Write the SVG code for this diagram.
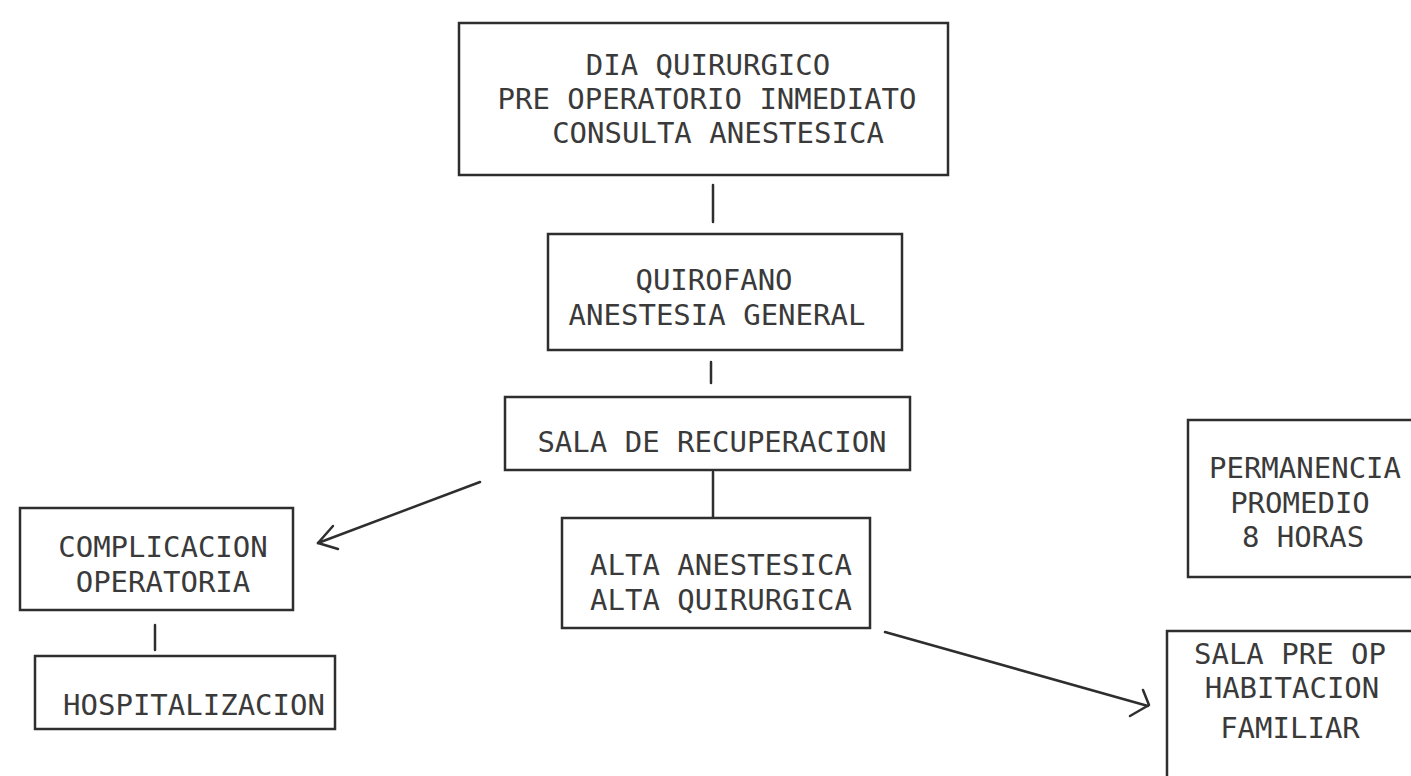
<svg xmlns="http://www.w3.org/2000/svg" width="1411" height="776" viewBox="0 0 1411 776">
<style>
.box{fill:none;stroke:#2e2e2e;stroke-width:2.5}
.t{font-family:"DejaVu Sans Mono","Liberation Mono",monospace;font-size:29px;fill:#3a3a3a;text-anchor:middle}
.c{fill:none;stroke:#2e2e2e;stroke-width:2.5;stroke-linecap:round;stroke-linejoin:round}
</style>
<rect width="1411" height="776" fill="#fff"/>
<g id="dia-quirurgico">
<rect class="box" x="459" y="23" width="489" height="152"/>
<text class="t" x="708" y="75">DIA QUIRURGICO</text>
<text class="t" x="707" y="109">PRE OPERATORIO INMEDIATO</text>
<text class="t" x="718" y="143">CONSULTA ANESTESICA</text>
</g>
<g id="quirofano">
<rect class="box" x="548" y="234" width="354" height="116"/>
<text class="t" x="714" y="290">QUIROFANO</text>
<text class="t" x="717" y="325">ANESTESIA GENERAL</text>
</g>
<g id="sala-recuperacion">
<rect class="box" x="505" y="397" width="405" height="73"/>
<text class="t" x="712" y="452">SALA DE RECUPERACION</text>
</g>
<g id="alta">
<rect class="box" x="562" y="518" width="308" height="110"/>
<text class="t" x="721" y="575">ALTA ANESTESICA</text>
<text class="t" x="721" y="610">ALTA QUIRURGICA</text>
</g>
<g id="complicacion">
<rect class="box" x="20" y="508" width="273" height="102"/>
<text class="t" x="163" y="557">COMPLICACION</text>
<text class="t" x="163" y="592">OPERATORIA</text>
</g>
<g id="hospitalizacion">
<rect class="box" x="35" y="656" width="300" height="73"/>
<text class="t" x="194" y="715">HOSPITALIZACION</text>
</g>
<g id="permanencia">
<rect class="box" x="1188" y="420" width="240" height="157"/>
<text class="t" x="1305" y="478">PERMANENCIA</text>
<text class="t" x="1300" y="513">PROMEDIO</text>
<text class="t" x="1303" y="547">8 HORAS</text>
</g>
<g id="sala-pre-op">
<rect class="box" x="1167" y="631" width="260" height="160"/>
<text class="t" x="1290" y="664">SALA PRE OP</text>
<text class="t" x="1292" y="698">HABITACION</text>
<text class="t" x="1290" y="738">FAMILIAR</text>
</g>
<g id="connectors">
<line class="c" x1="713" y1="185" x2="713" y2="222"/>
<line class="c" x1="711" y1="362" x2="711" y2="383"/>
<line class="c" x1="713" y1="472" x2="713" y2="517"/>
<line class="c" x1="155" y1="625" x2="155" y2="650"/>
<line class="c" x1="480" y1="482" x2="318" y2="543"/>
<polyline class="c" points="333,526 318,543 338,549"/>
<line class="c" x1="885" y1="632" x2="1148" y2="706"/>
<polyline class="c" points="1143,690 1149,705 1130,716"/>
</g>
</svg>
